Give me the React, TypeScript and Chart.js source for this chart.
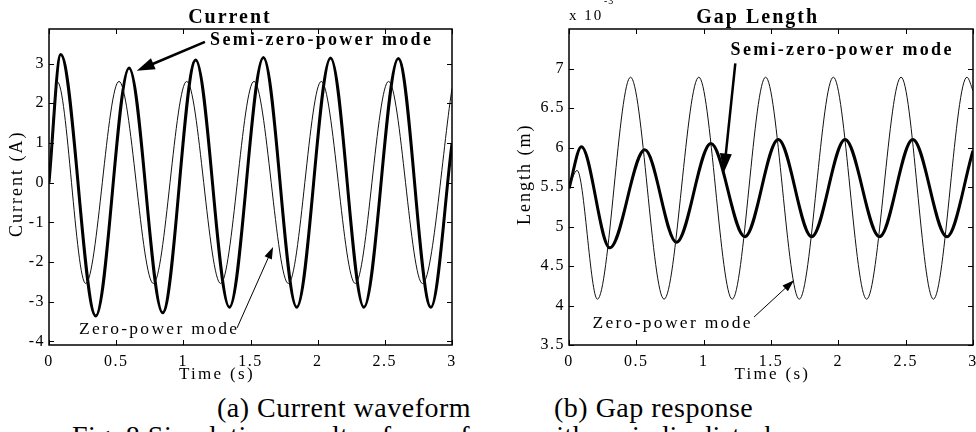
import React, { useEffect, useRef } from "react";
import { Chart, registerables } from "chart.js";

Chart.register(...registerables);

const FONT = "'Liberation Serif', 'Times New Roman', serif";

// ---- axis ticks ----
const timeTicks = [0, 0.5, 1, 1.5, 2, 2.5, 3];
const timeTickLabels = ["0", "0.5", "1", "1.5", "2", "2.5", "3"];
const currentTicks = [-4, -3, -2, -1, 0, 1, 2, 3];
const currentTickLabels = ["-4", "-3", "-2", "-1", "0", "1", "2", "3"];
const gapTicks = [3.5, 4, 4.5, 5, 5.5, 6, 6.5, 7];
const gapTickLabels = ["3.5", "4", "4.5", "5", "5.5", "6", "6.5", "7"];

// ---- (a) current, zero-power mode (thin): start, peaks/troughs, end ----
const zeroPowerCurrentTime = [0, 0.062, 0.273, 0.521, 0.777, 1.025, 1.278, 1.526, 1.782, 2.027, 2.28, 2.528, 2.78, 3.0];
const zeroPowerCurrent = [0, 2.54, -2.54, 2.55, -2.54, 2.55, -2.54, 2.55, -2.54, 2.55, -2.54, 2.55, -2.54, 2.37];

// ---- (a) current, semi-zero-power mode (thick) ----
const semiZeroCurrentTime = [0, 0.087, 0.348, 0.596, 0.846, 1.092, 1.343, 1.596, 1.844, 2.096, 2.344, 2.6, 2.843, 3.0];
const semiZeroCurrent = [0, 3.23, -3.36, 2.89, -3.28, 3.09, -3.14, 3.15, -3.14, 3.14, -3.14, 3.13, -3.14, 0.99];

// ---- (b) gap length (x10^-3 m), zero-power mode (thin) ----
const zeroPowerGapTime = [0, 0.06, 0.211, 0.457, 0.706, 0.964, 1.212, 1.46, 1.71, 1.963, 2.21, 2.466, 2.706, 2.955, 3.0];
const zeroPowerGap = [5.5, 5.71, 4.08, 6.89, 4.08, 6.89, 4.08, 6.89, 4.08, 6.89, 4.08, 6.89, 4.08, 6.89, 6.72];

// ---- (b) gap length, semi-zero-power mode (thick) ----
const semiZeroGapTime = [0, 0.092, 0.303, 0.563, 0.798, 1.054, 1.306, 1.554, 1.802, 2.05, 2.306, 2.553, 2.806, 3.0];
const semiZeroGap = [5.48, 6.01, 4.73, 5.97, 4.8, 6.05, 4.87, 6.1, 4.87, 6.1, 4.87, 6.1, 4.87, 5.96];

type Txt = { text: string; x: number; y: number; size: number; bold?: boolean; spacing: number };
type Arr = { x0: number; y0: number; x1: number; y1: number; width: number; headLen: number; headHalf: number };

type PanelCfg = {
  left: number;
  title: string;
  titleX: number;
  xTitleX: number;
  yTitle: string;
  yTitleCx: number;
  yTitleY: number;
  yMin: number;
  yMax: number;
  yTicks: number[];
  yTickLabels: string[];
  yAxisWidth: number;
  padRight: number;
  thinT: number[];
  thinV: number[];
  thickT: number[];
  thickV: number[];
  texts: Txt[];
  arrows: Arr[];
  exponent?: boolean;
};

const CW = 488;
const CH = 392;
const X_AXIS_H = 47;

function Panel({ cfg }: { cfg: PanelCfg }) {
  const ref = useRef<HTMLCanvasElement | null>(null);

  useEffect(() => {
    if (!ref.current) return;

    const spacingPlugin = {
      id: "spacing",
      beforeDraw(chart: any) {
        (chart.ctx as any).letterSpacing = "1.5px";
      },
    };

    const framePlugin = {
      id: "frame",
      afterDatasetsDraw(chart: any) {
        const ctx: CanvasRenderingContext2D = chart.ctx;
        const { left, right, top, bottom } = chart.chartArea;
        const xs = chart.scales.x;
        const ys = chart.scales.y;
        ctx.save();
        (ctx as any).letterSpacing = "0px";
        ctx.strokeStyle = "#000";
        ctx.lineWidth = 1.5;
        ctx.strokeRect(left, top, right - left, bottom - top);
        ctx.lineWidth = 1;
        const tl = 5;
        ctx.beginPath();
        xs.ticks.forEach((t: any) => {
          const px = Math.round(xs.getPixelForValue(t.value)) + 0.5;
          ctx.moveTo(px, bottom);
          ctx.lineTo(px, bottom - tl);
          ctx.moveTo(px, top);
          ctx.lineTo(px, top + tl);
        });
        ys.ticks.forEach((t: any) => {
          const py = Math.round(ys.getPixelForValue(t.value)) + 0.5;
          ctx.moveTo(left, py);
          ctx.lineTo(left + tl, py);
          ctx.moveTo(right, py);
          ctx.lineTo(right - tl, py);
        });
        ctx.stroke();

        ctx.fillStyle = "#000";

        // axis titles
        ctx.textAlign = "center";
        ctx.textBaseline = "middle";
        ctx.font = `17px ${FONT}`;
        (ctx as any).letterSpacing = "2.3px";
        ctx.fillText("Time (s)", xs.getPixelForValue(cfg.xTitleX), 374.5);

        ctx.save();
        ctx.translate(cfg.yTitleCx, ys.getPixelForValue(cfg.yTitleY));
        ctx.rotate(-Math.PI / 2);
        ctx.font = `18px ${FONT}`;
        (ctx as any).letterSpacing = "2px";
        ctx.fillText(cfg.yTitle, 0, 0);
        ctx.restore();

        // title
        ctx.textBaseline = "alphabetic";
        ctx.textAlign = "center";
        ctx.font = `bold 20px ${FONT}`;
        (ctx as any).letterSpacing = "2px";
        ctx.fillText(cfg.title, xs.getPixelForValue(cfg.titleX), top - 6);

        if (cfg.exponent) {
          ctx.textAlign = "left";
          ctx.font = `15px ${FONT}`;
          (ctx as any).letterSpacing = "2px";
          ctx.fillText("x 10", left, 20);
          ctx.font = `10px ${FONT}`;
          (ctx as any).letterSpacing = "1px";
          ctx.fillText("-3", left + 35, 4);
        }

        // labels
        ctx.textAlign = "left";
        cfg.texts.forEach((t) => {
          ctx.font = `${t.bold ? "bold " : ""}${t.size}px ${FONT}`;
          (ctx as any).letterSpacing = `${t.spacing}px`;
          ctx.fillText(t.text, xs.getPixelForValue(t.x), ys.getPixelForValue(t.y));
        });

        // arrows
        (ctx as any).letterSpacing = "0px";
        cfg.arrows.forEach((a) => {
          const x0 = xs.getPixelForValue(a.x0);
          const y0 = ys.getPixelForValue(a.y0);
          const x1 = xs.getPixelForValue(a.x1);
          const y1 = ys.getPixelForValue(a.y1);
          const dx = x1 - x0;
          const dy = y1 - y0;
          const len = Math.hypot(dx, dy);
          const ux = dx / len;
          const uy = dy / len;
          const bx = x1 - ux * a.headLen;
          const by = y1 - uy * a.headLen;
          ctx.lineWidth = a.width;
          ctx.strokeStyle = "#000";
          ctx.beginPath();
          ctx.moveTo(x0, y0);
          ctx.lineTo(bx + ux * 2, by + uy * 2);
          ctx.stroke();
          ctx.beginPath();
          ctx.moveTo(x1, y1);
          ctx.lineTo(bx - uy * a.headHalf, by + ux * a.headHalf);
          ctx.lineTo(bx + uy * a.headHalf, by - ux * a.headHalf);
          ctx.closePath();
          ctx.fill();
        });
        ctx.restore();
      },
    };

    const chart = new Chart(ref.current, {
      type: "line",
      data: {
        datasets: [
          {
            data: cfg.thinT.map((t, i) => ({ x: t, y: cfg.thinV[i] })),
            borderColor: "#111",
            borderWidth: 1,
            pointRadius: 0,
            cubicInterpolationMode: "monotone",
            fill: false,
          },
          {
            data: cfg.thickT.map((t, i) => ({ x: t, y: cfg.thickV[i] })),
            borderColor: "#000",
            borderWidth: 3,
            pointRadius: 0,
            cubicInterpolationMode: "monotone",
            fill: false,
          },
        ],
      },
      options: {
        animation: false,
        responsive: false,
        maintainAspectRatio: false,
        events: [],
        layout: { padding: { left: 0, right: cfg.padRight, top: 29, bottom: 0 } },
        plugins: { legend: { display: false }, tooltip: { enabled: false }, title: { display: false } },
        scales: {
          x: {
            type: "linear",
            min: 0,
            max: 3,
            grid: { display: false, drawTicks: false },
            border: { display: false },
            ticks: {
              padding: 7,
              color: "#000",
              font: { family: FONT, size: 16 },
              autoSkip: false,
              maxRotation: 0,
              minRotation: 0,
              callback: (_v: any, i: number) => timeTickLabels[i],
            },
            afterBuildTicks: (s: any) => {
              s.ticks = timeTicks.map((v) => ({ value: v }));
            },
            afterFit: (s: any) => {
              s.height = X_AXIS_H;
              s.paddingLeft = 0;
              s.paddingRight = 0;
            },
            title: { display: false },
          },
          y: {
            type: "linear",
            min: cfg.yMin,
            max: cfg.yMax,
            grid: { display: false, drawTicks: false },
            border: { display: false },
            ticks: {
              padding: 4,
              color: "#000",
              font: { family: FONT, size: 16 },
              autoSkip: false,
              callback: (_v: any, i: number) => cfg.yTickLabels[i],
            },
            afterBuildTicks: (s: any) => {
              s.ticks = cfg.yTicks.map((v) => ({ value: v }));
            },
            afterFit: (s: any) => {
              s.width = cfg.yAxisWidth;
              s.paddingTop = 0;
              s.paddingBottom = 0;
            },
            title: { display: false },
          },
        },
      } as any,
      plugins: [spacingPlugin, framePlugin],
    });
    return () => chart.destroy();
  }, [cfg]);

  return (
    <canvas
      ref={ref}
      width={CW}
      height={CH}
      style={{ position: "absolute", left: cfg.left, top: 0, width: CW, height: CH }}
    />
  );
}

const currentCfg: PanelCfg = {
  left: 0,
  title: "Current",
  titleX: 1.347,
  xTitleX: 1.25,
  yTitle: "Current (A)",
  yTitleCx: 17.5,
  yTitleY: -0.03,
  yMin: -4.09,
  yMax: 3.87,
  yTicks: currentTicks,
  yTickLabels: currentTickLabels,
  yAxisWidth: 49,
  padRight: 36,
  thinT: zeroPowerCurrentTime,
  thinV: zeroPowerCurrent,
  thickT: semiZeroCurrentTime,
  thickV: semiZeroCurrent,
  texts: [
    { text: "Semi-zero-power mode", x: 1.199, y: 3.465, size: 18, bold: true, spacing: 2.3 },
    { text: "Zero-power mode", x: 0.223, y: -3.82, size: 17.5, spacing: 2.3 },
  ],
  arrows: [
    { x0: 1.161, y0: 3.548, x1: 0.653, y1: 2.818, width: 2.5, headLen: 18, headHalf: 6 },
    { x0: 1.4, y0: -3.66, x1: 1.668, y1: -1.62, width: 1, headLen: 12, headHalf: 4 },
  ],
};

const gapCfg: PanelCfg = {
  left: 488,
  title: "Gap Length",
  titleX: 1.401,
  xTitleX: 1.51,
  yTitle: "Length (m)",
  yTitleCx: 37,
  yTitleY: 5.66,
  yMin: 3.5,
  yMax: 7.5,
  yTicks: gapTicks,
  yTickLabels: gapTickLabels,
  yAxisWidth: 81,
  padRight: 3,
  thinT: zeroPowerGapTime,
  thinV: zeroPowerGap,
  thickT: semiZeroGapTime,
  thickV: semiZeroGap,
  texts: [
    { text: "Semi-zero-power mode", x: 1.2, y: 7.17, size: 18, bold: true, spacing: 2.3 },
    { text: "Zero-power mode", x: 0.174, y: 3.711, size: 17.5, spacing: 2.3 },
  ],
  arrows: [
    { x0: 1.235, y0: 7.064, x1: 1.15, y1: 5.684, width: 2.5, headLen: 19, headHalf: 6 },
    { x0: 1.374, y0: 3.854, x1: 1.671, y1: 4.32, width: 1, headLen: 12, headHalf: 4 },
  ],
  exponent: true,
};

const captionStyle: React.CSSProperties = {
  position: "absolute",
  fontFamily: FONT,
  fontSize: 28,
  lineHeight: "28px",
  letterSpacing: "0.5px",
  color: "#000",
  whiteSpace: "nowrap",
};

export default function App() {
  return (
    <div
      style={{
        position: "absolute",
        left: 0,
        top: 0,
        width: 976,
        height: 432,
        overflow: "hidden",
        background: "#fff",
      }}
    >
      <Panel cfg={currentCfg} />
      <Panel cfg={gapCfg} />
      <div style={{ ...captionStyle, left: 217, top: 393.5 }}>(a) Current waveform</div>
      <div style={{ ...captionStyle, left: 554, top: 393.5 }}>(b) Gap response</div>
      <div style={{ ...captionStyle, left: 72, top: 421.7 }}>
        Fig. 8 Simulation results of waveforms with periodic disturbance
      </div>
    </div>
  );
}
